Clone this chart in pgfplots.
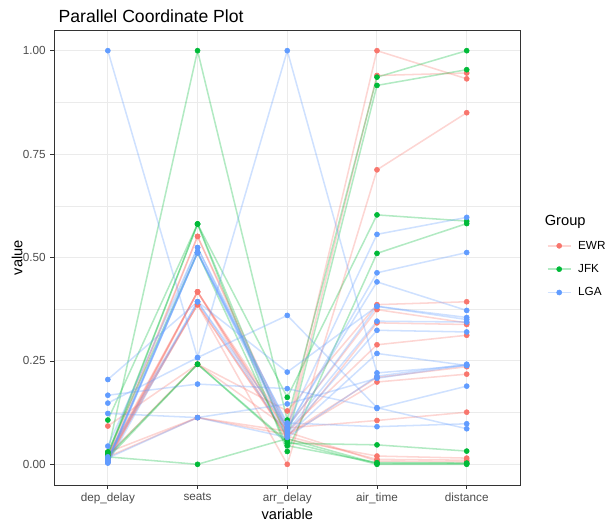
\documentclass[border=0pt]{standalone}
\usepackage{pgfplots}
\pgfplotsset{compat=1.18}
\usepackage{pgfplotstable}
\usepackage{fontspec}
\setmainfont{Liberation Sans}

\definecolor{ewr}{HTML}{F8766D}
\definecolor{jfk}{HTML}{00BA38}
\definecolor{lga}{HTML}{619CFF}
\definecolor{grid92}{gray}{0.92}
\definecolor{gray20}{gray}{0.2}
\definecolor{gray30}{gray}{0.3}

% Scaled values: one row per variable (0 dep_delay, 1 seats, 2 arr_delay,
% 3 air_time, 4 distance), one column per flight.
\pgfplotstableread{
pos f1    f2    f3    f4     f5    f6    f7    f8    f9    f10   f11   f12   f13
0   0.020 0.015 0.025 0.0925 0.010 0.029 0.012 0.018 0.008 0.022 0.005 0.015 0.020
1   0.551 0.417 0.386 0.242  0.417 0.113 0.386 0.113 0.551 0.242 0.417 0.386 0.417
2   0.085 0.075 0.000 0.129  0.090 0.080 0.065 0.072 0.070 0.088 0.060 0.068 0.078
3   1.000 0.940 0.712 0.386  0.374 0.289 0.342 0.210 0.199 0.106 0.020 0.012 0.008
4   0.932 0.946 0.850 0.393  0.342 0.312 0.338 0.236 0.218 0.126 0.015 0.010 0.006
}\ewrdata

\pgfplotstableread{
pos f1    f2    f3    f4    f5    f6    f7    f8
0   0.030 0.025 0.107 0.020 0.015 0.020 0.018 0.029
1   1.000 0.581 0.581 0.581 0.242 0.242 0.000 0.512
2   0.107 0.060 0.162 0.031 0.051 0.055 0.062 0.045
3   0.936 0.916 0.603 0.510 0.047 0.000 0.002 0.004
4   1.000 0.954 0.588 0.582 0.032 0.000 0.002 0.003
}\jfkdata

\pgfplotstableread{
pos f1    f2    f3    f4    f5    f6    f7    f8    f9    f10   f11   f12   f13   f14
0   1.000 0.205 0.167 0.148 0.123 0.044 0.010 0.005 0.008 0.012 0.003 0.015 0.006 0.018
1   0.258 0.393 0.194 0.258 0.113 0.524 0.512 0.512 0.524 0.512 0.393 0.113 0.512 0.393
2   1.000 0.223 0.183 0.360 0.146 0.096 0.085 0.090 0.080 0.075 0.070 0.065 0.100 0.088
3   0.221 0.382 0.135 0.137 0.208 0.556 0.463 0.441 0.346 0.324 0.268 0.213 0.091 0.382
4   0.239 0.355 0.189 0.086 0.240 0.597 0.512 0.372 0.344 0.320 0.239 0.242 0.098 0.350
}\lgadata

\pgfplotsset{
  pcline/.style={draw=#1, draw opacity=0.3, line width=1.15pt, mark=none, forget plot},
  pcpoint/.style={only marks, mark=*, mark size=1.9pt,
    mark options={draw=#1, fill=#1}, forget plot},
  % legend key: a 17.28pt line with the point in its middle
  pckey/.style={legend image code/.code={
    \draw[#1, draw opacity=0.3, line width=1.15pt] (0pt,0pt) -- (17.28pt,0pt);
    \fill[#1] (8.64pt,0pt) circle (1.9pt);}},
}

\begin{document}
\begin{tikzpicture}
\useasboundingbox (0,0) rectangle (461.25pt,396.75pt);
\begin{axis}[
  at={(40.5pt,33pt)}, anchor=south west,
  scale only axis, width=349.9pt, height=341.25pt,
  xmin=-0.6, xmax=4.6, ymin=-0.05, ymax=1.05,
  xtick={0,1,2,3,4},
  xticklabels={dep\_delay, seats, arr\_delay, air\_time, distance},
  ytick={0,0.25,0.5,0.75,1},
  minor y tick num=1,
  grid=both,
  major grid style={grid92, line width=0.75pt},
  minor grid style={grid92, line width=0.4pt},
  minor tick length=0pt,
  major tick length=2.75pt,
  tick align=outside, tick pos=left,
  tick style={gray20, line width=0.5pt},
  axis line style={gray20, line width=0.5pt},
  ticklabel style={font=\fontsize{8.8}{10}\selectfont, text=gray30},
  /pgf/number format/assume math mode=true,
  yticklabel style={/pgf/number format/.cd, fixed, fixed zerofill, precision=2},
  xlabel={variable}, ylabel={value},
  label style={font=\fontsize{11}{13}\selectfont, text=black},
  xlabel style={at={(axis description cs:0.5,-0.064)}, anchor=center},
  ylabel style={at={(axis description cs:-0.079,0.5)}, anchor=center},
  legend style={at={(1.056,0.5)}, anchor=west, draw=none, fill=none,
    inner sep=0pt, row sep=6.5pt, font=\fontsize{8.8}{10}\selectfont,
    nodes={inner sep=1pt, text height=7pt, text depth=2pt},
    /tikz/every odd column/.append style={column sep=4pt}},
  legend cell align=left,
]
% lines first, so every point sits above every line
\pgfplotsinvokeforeach{1,...,13}{\addplot[pcline=ewr] table[x=pos, y=f#1] {\ewrdata};}
\pgfplotsinvokeforeach{1,...,8}{\addplot[pcline=jfk] table[x=pos, y=f#1] {\jfkdata};}
\pgfplotsinvokeforeach{1,...,14}{\addplot[pcline=lga] table[x=pos, y=f#1] {\lgadata};}
\pgfplotsinvokeforeach{1,...,13}{\addplot[pcpoint=ewr] table[x=pos, y=f#1] {\ewrdata};}
\pgfplotsinvokeforeach{1,...,8}{\addplot[pcpoint=jfk] table[x=pos, y=f#1] {\jfkdata};}
\pgfplotsinvokeforeach{1,...,14}{\addplot[pcpoint=lga] table[x=pos, y=f#1] {\lgadata};}

\addlegendimage{empty legend}
\addlegendentry{\hspace*{-25pt}\fontsize{11}{13}\selectfont Group}
\addlegendimage{pckey=ewr}\addlegendentry{EWR}
\addlegendimage{pckey=jfk}\addlegendentry{JFK}
\addlegendimage{pckey=lga}\addlegendentry{LGA}
\end{axis}
\node[anchor=base west, font=\fontsize{13.2}{15}\selectfont] at (40.5pt,379.5pt) {Parallel Coordinate Plot};
\end{tikzpicture}
\end{document}
